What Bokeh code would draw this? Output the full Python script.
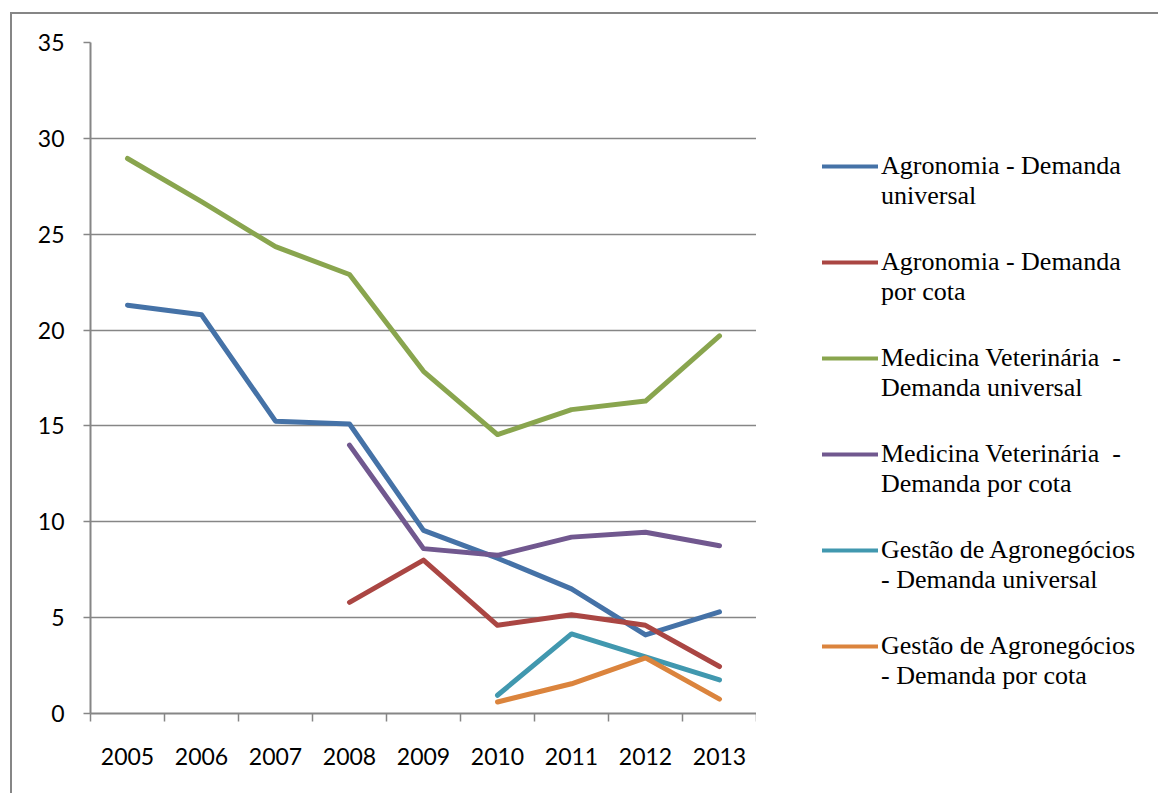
from bokeh.plotting import figure
from bokeh.layouts import row
from bokeh.models import Range1d, FixedTicker, Legend, LegendItem
from bokeh.embed import file_html
from bokeh.resources import INLINE

nan = float("nan")

years = [2005, 2006, 2007, 2008, 2009, 2010, 2011, 2012, 2013]
agronomia_universal = [21.3, 20.8, 15.25, 15.1, 9.55, 8.1, 6.5, 4.1, 5.3]
agronomia_cota = [nan, nan, nan, 5.8, 8.0, 4.6, 5.15, 4.6, 2.45]
veterinaria_universal = [28.95, 26.7, 24.35, 22.9, 17.85, 14.55, 15.85, 16.3, 19.7]
veterinaria_cota = [nan, nan, nan, 14.0, 8.6, 8.25, 9.2, 9.45, 8.75]
gestao_universal = [nan, nan, nan, nan, nan, 0.95, 4.15, 2.95, 1.75]
gestao_cota = [nan, nan, nan, nan, nan, 0.6, 1.55, 2.9, 0.75]

# legend text, split in two lines per series
label_first_lines = [
    "Agronomia - Demanda",
    "Agronomia - Demanda",
    "Medicina Veterinária  -",
    "Medicina Veterinária  -",
    "Gestão de Agronegócios",
    "Gestão de Agronegócios",
]
label_second_lines = [
    "universal",
    "por cota",
    "Demanda universal",
    "Demanda por cota",
    "- Demanda universal",
    "- Demanda por cota",
]
series_values = [
    agronomia_universal,
    agronomia_cota,
    veterinaria_universal,
    veterinaria_cota,
    gestao_universal,
    gestao_cota,
]
series_colors = ["#4572A7", "#AA4643", "#89A54E", "#71588F", "#4198AF", "#DB843D"]

y_ticks = [0, 5, 10, 15, 20, 25, 30, 35]
year_edges = [y - 0.5 for y in years] + [years[-1] + 0.5]

AXIS_GRAY = "#868686"
HEIGHT = 779

# ---- chart ----
p = figure(
    width=744,
    height=HEIGHT,
    x_range=Range1d(year_edges[0], year_edges[-1]),
    y_range=Range1d(0, 35),
    output_backend="svg",
    toolbar_location=None,
    min_border_left=78,
    min_border_right=0,
    min_border_top=28,
    min_border_bottom=80,
)
p.outline_line_color = None
p.background_fill_color = "white"
p.border_fill_color = "white"

p.xgrid.grid_line_color = None
p.ygrid.ticker = FixedTicker(ticks=y_ticks)
p.ygrid.grid_line_color = AXIS_GRAY
p.ygrid.grid_line_width = 1.5

p.yaxis.ticker = FixedTicker(ticks=y_ticks)
p.yaxis.axis_line_color = AXIS_GRAY
p.yaxis.axis_line_width = 2
p.yaxis.major_tick_line_color = AXIS_GRAY
p.yaxis.major_tick_line_width = 1.5
p.yaxis.major_tick_in = 0
p.yaxis.major_tick_out = 7
p.yaxis.minor_tick_line_color = None
p.yaxis.major_label_standoff = 19
p.yaxis.major_label_text_font = "Lato"
p.yaxis.major_label_text_font_size = "23px"
p.yaxis.major_label_text_color = "black"

# labels at year centres, tick marks between years
p.xaxis.ticker = FixedTicker(ticks=years, minor_ticks=year_edges)
p.xaxis.axis_line_color = AXIS_GRAY
p.xaxis.axis_line_width = 2
p.xaxis.major_tick_line_color = None
p.xaxis.major_tick_out = 7
p.xaxis.minor_tick_line_color = AXIS_GRAY
p.xaxis.minor_tick_line_width = 1.5
p.xaxis.minor_tick_in = 0
p.xaxis.minor_tick_out = 8
p.xaxis.major_label_standoff = 26
p.xaxis.major_label_text_font = "Lato"
p.xaxis.major_label_text_font_size = "23px"
p.xaxis.major_label_text_color = "black"

for values, color in zip(series_values, series_colors):
    p.line(years, values, line_color=color, line_width=5,
           line_cap="round", line_join="round")

# ---- legend panel ----
lg = figure(
    width=402,
    height=HEIGHT,
    x_range=Range1d(0, 1),
    y_range=Range1d(0, 1),
    output_backend="svg",
    toolbar_location=None,
    min_border=0,
    x_axis_location=None,
    y_axis_location=None,
)
lg.outline_line_color = None
lg.grid.grid_line_color = None
lg.background_fill_color = "white"
lg.border_fill_color = "white"

ROW_H = 30
ENTRY_GAP = 66
legend_h = 6 * ROW_H + 5 * ENTRY_GAP
first_top = 217
bottom_offset = HEIGHT - (first_top + legend_h)

first_items, second_items = [], []
for first, second, values, color in zip(label_first_lines, label_second_lines,
                                        series_values, series_colors):
    # hidden copies of the series, used only for the legend swatches
    swatch = lg.line(years, values, line_color=color, line_width=4,
                     line_cap="round", visible=False)
    blank = lg.line(years, values, line_alpha=0, visible=False)
    first_items.append(LegendItem(label=first, renderers=[swatch]))
    second_items.append(LegendItem(label=second, renderers=[blank]))

common = dict(
    orientation="vertical",
    label_text_font="Liberation Serif",
    label_text_font_size="26px",
    label_text_color="black",
    label_height=ROW_H,
    glyph_height=ROW_H,
    label_standoff=3,
    glyph_width=56,
    spacing=ENTRY_GAP,
    padding=0,
    margin=0,
    border_line_color=None,
    background_fill_alpha=0,
    inactive_fill_alpha=0,
    click_policy="none",
)
lg.add_layout(Legend(items=first_items, location=(66, bottom_offset), **common), "center")
lg.add_layout(Legend(items=second_items, location=(66, bottom_offset - ROW_H), **common), "center")

layout = row(p, lg, spacing=0)
layout.styles = {
    "margin-left": "10px",
    "margin-top": "12px",
    "border-left": f"2px solid {AXIS_GRAY}",
    "border-top": f"2px solid {AXIS_GRAY}",
}

open("out.html", "w").write(file_html(layout, INLINE))
